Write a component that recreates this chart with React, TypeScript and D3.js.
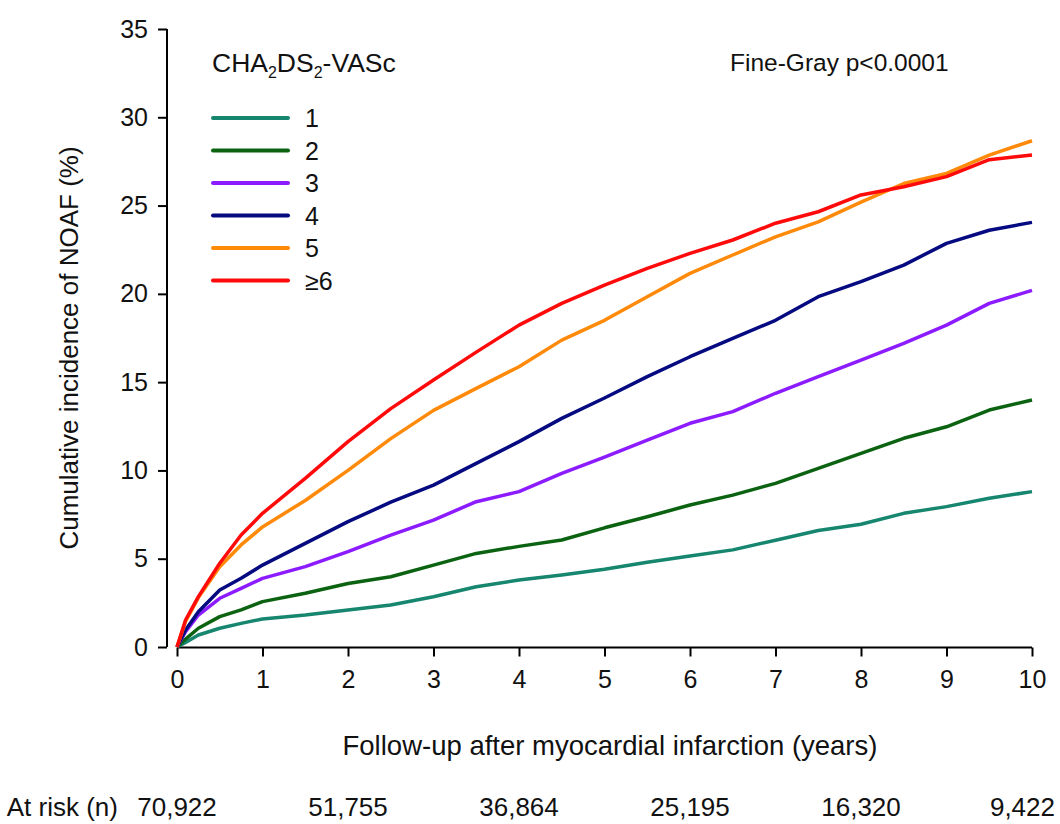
import React, { useEffect, useRef } from 'react';
import * as d3 from 'd3';

// follow-up times (years)
const times = [0, 0.1, 0.25, 0.5, 0.75, 1, 1.5, 2, 2.5, 3, 3.5, 4, 4.5, 5, 5.5, 6, 6.5, 7, 7.5, 8, 8.5, 9, 9.5, 10];

// cumulative incidence (%) by CHA2DS2-VASc score
const score1 = [0, 0.26, 0.68, 1.06, 1.34, 1.59, 1.81, 2.1, 2.38, 2.85, 3.41, 3.79, 4.08, 4.4, 4.8, 5.15, 5.5, 6.05, 6.6, 6.95, 7.57, 7.95, 8.42, 8.8];
const score2 = [0, 0.45, 1.06, 1.72, 2.1, 2.57, 3.04, 3.6, 3.98, 4.64, 5.3, 5.7, 6.06, 6.75, 7.38, 8.04, 8.6, 9.27, 10.12, 10.97, 11.82, 12.47, 13.42, 13.99];
const score3 = [0, 0.87, 1.81, 2.76, 3.32, 3.89, 4.55, 5.4, 6.34, 7.19, 8.23, 8.8, 9.83, 10.75, 11.72, 12.67, 13.33, 14.37, 15.31, 16.25, 17.2, 18.23, 19.46, 20.2];
const score4 = [0, 0.96, 2.0, 3.23, 3.89, 4.64, 5.87, 7.1, 8.2, 9.17, 10.4, 11.63, 12.95, 14.1, 15.31, 16.44, 17.48, 18.5, 19.84, 20.69, 21.63, 22.86, 23.6, 24.05];
const score5 = [0, 1.45, 2.8, 4.55, 5.78, 6.8, 8.3, 10.0, 11.8, 13.4, 14.65, 15.87, 17.38, 18.5, 19.84, 21.16, 22.2, 23.23, 24.08, 25.2, 26.25, 26.82, 27.86, 28.67];
const score6 = [0, 1.53, 2.85, 4.74, 6.34, 7.57, 9.55, 11.63, 13.5, 15.12, 16.7, 18.23, 19.46, 20.5, 21.44, 22.29, 23.05, 24.0, 24.65, 25.6, 26.07, 26.64, 27.6, 27.86];

const labels = ['1', '2', '3', '4', '5', '≥6'];
const colors = ['#16866f', '#0b6312', '#8c1cff', '#050a80', '#ff8a0a', '#ff0a0a'];
const seriesValues = [score1, score2, score3, score4, score5, score6];

const yTicks = [0, 5, 10, 15, 20, 25, 30, 35];
const xTicks = [0, 1, 2, 3, 4, 5, 6, 7, 8, 9, 10];
const riskTimes = [0, 2, 4, 6, 8, 10];
const atRisk = ['70,922', '51,755', '36,864', '25,195', '16,320', '9,422'];

const FONT = '"Liberation Sans", Arial, sans-serif';

const App = () => {
    const ref = useRef<SVGSVGElement>(null);

    useEffect(() => {
        const svg = d3.select(ref.current);
        svg.selectAll('*').remove();

        const margin = { top: 29, right: 28, bottom: 177, left: 177 };
        const width = 1060 - margin.left - margin.right;
        const height = 824 - margin.top - margin.bottom;

        const x = d3.scaleLinear().domain([0, 10]).range([margin.left, margin.left + width]);
        const y = d3.scaleLinear().domain([0, 35]).range([margin.top + height, margin.top]);

        // y axis, offset to the left like base R
        const yAxis = svg.append('g')
            .attr('transform', 'translate(' + (margin.left - 10) + ',0)')
            .call(d3.axisLeft(y).tickValues(yTicks).tickSize(9).tickPadding(10).tickFormat(d3.format('d')));
        yAxis.select('.domain').attr('d', 'M0,' + y(0) + 'V' + y(35));
        yAxis.selectAll('path, line').attr('stroke', '#000').attr('stroke-width', 2);
        yAxis.selectAll('text').attr('font-family', FONT).attr('font-size', 25).attr('fill', '#111');

        const xAxis = svg.append('g')
            .attr('transform', 'translate(0,' + (y(0) + 0.5) + ')')
            .call(d3.axisBottom(x).tickValues(xTicks).tickSize(9).tickPadding(14).tickFormat(d3.format('d')));
        xAxis.select('.domain').attr('d', 'M' + x(0) + ',0H' + x(10));
        xAxis.selectAll('path, line').attr('stroke', '#000').attr('stroke-width', 2);
        xAxis.selectAll('text').attr('font-family', FONT).attr('font-size', 25).attr('fill', '#111');

        // curves
        const line = d3.line<number>()
            .x((d, i) => x(times[i]))
            .y(d => y(d));
        seriesValues.forEach((vals, i) => {
            svg.append('path')
                .datum(vals)
                .attr('fill', 'none')
                .attr('stroke', colors[i])
                .attr('stroke-width', 3.5)
                .attr('stroke-linejoin', 'round')
                .attr('d', line);
        });

        // axis titles
        svg.append('text')
            .attr('transform', 'translate(78,' + (margin.top + height / 2 + 10) + ') rotate(-90)')
            .attr('text-anchor', 'middle')
            .attr('font-family', FONT).attr('font-size', 26).attr('fill', '#111')
            .text('Cumulative incidence of NOAF (%)');
        svg.append('text')
            .attr('x', 610).attr('y', 755)
            .attr('text-anchor', 'middle')
            .attr('font-family', FONT).attr('font-size', 27.5).attr('fill', '#111')
            .text('Follow-up after myocardial infarction (years)');

        // legend
        const title = svg.append('text')
            .attr('x', 212).attr('y', 72)
            .attr('font-family', FONT).attr('font-size', 26.5).attr('fill', '#111');
        title.append('tspan').text('CHA');
        title.append('tspan').attr('font-size', 16).attr('dy', 6).text('2');
        title.append('tspan').attr('dy', -6).text('DS');
        title.append('tspan').attr('font-size', 16).attr('dy', 6).text('2');
        title.append('tspan').attr('dy', -6).text('-VASc');

        const legend = svg.append('g');
        labels.forEach((lab, i) => {
            const ly = 118 + i * 32.5;
            legend.append('line')
                .attr('x1', 213).attr('x2', 288).attr('y1', ly).attr('y2', ly)
                .attr('stroke', colors[i]).attr('stroke-width', 4).attr('stroke-linecap', 'round');
            legend.append('text')
                .attr('x', 305).attr('y', ly + 9)
                .attr('font-family', FONT).attr('font-size', 25).attr('fill', '#111')
                .text(lab);
        });

        svg.append('text')
            .attr('x', 730).attr('y', 71)
            .attr('font-family', FONT).attr('font-size', 24.5).attr('fill', '#111')
            .text('Fine-Gray p<0.0001');

        // number at risk
        svg.append('text')
            .attr('x', 118).attr('y', 816)
            .attr('text-anchor', 'end')
            .attr('font-family', FONT).attr('font-size', 26).attr('fill', '#111')
            .text('At risk (n)');
        riskTimes.forEach((t, i) => {
            svg.append('text')
                .attr('x', i === riskTimes.length - 1 ? 1055 : x(t))
                .attr('y', 816)
                .attr('text-anchor', i === riskTimes.length - 1 ? 'end' : 'middle')
                .attr('font-family', FONT).attr('font-size', 26).attr('fill', '#111')
                .text(atRisk[i]);
        });
    }, []);

    return (
        <svg ref={ref} width={1060} height={824}
            style={{ position: 'fixed', left: 0, top: 0, background: '#fff' }} />
    );
};

export default App;
